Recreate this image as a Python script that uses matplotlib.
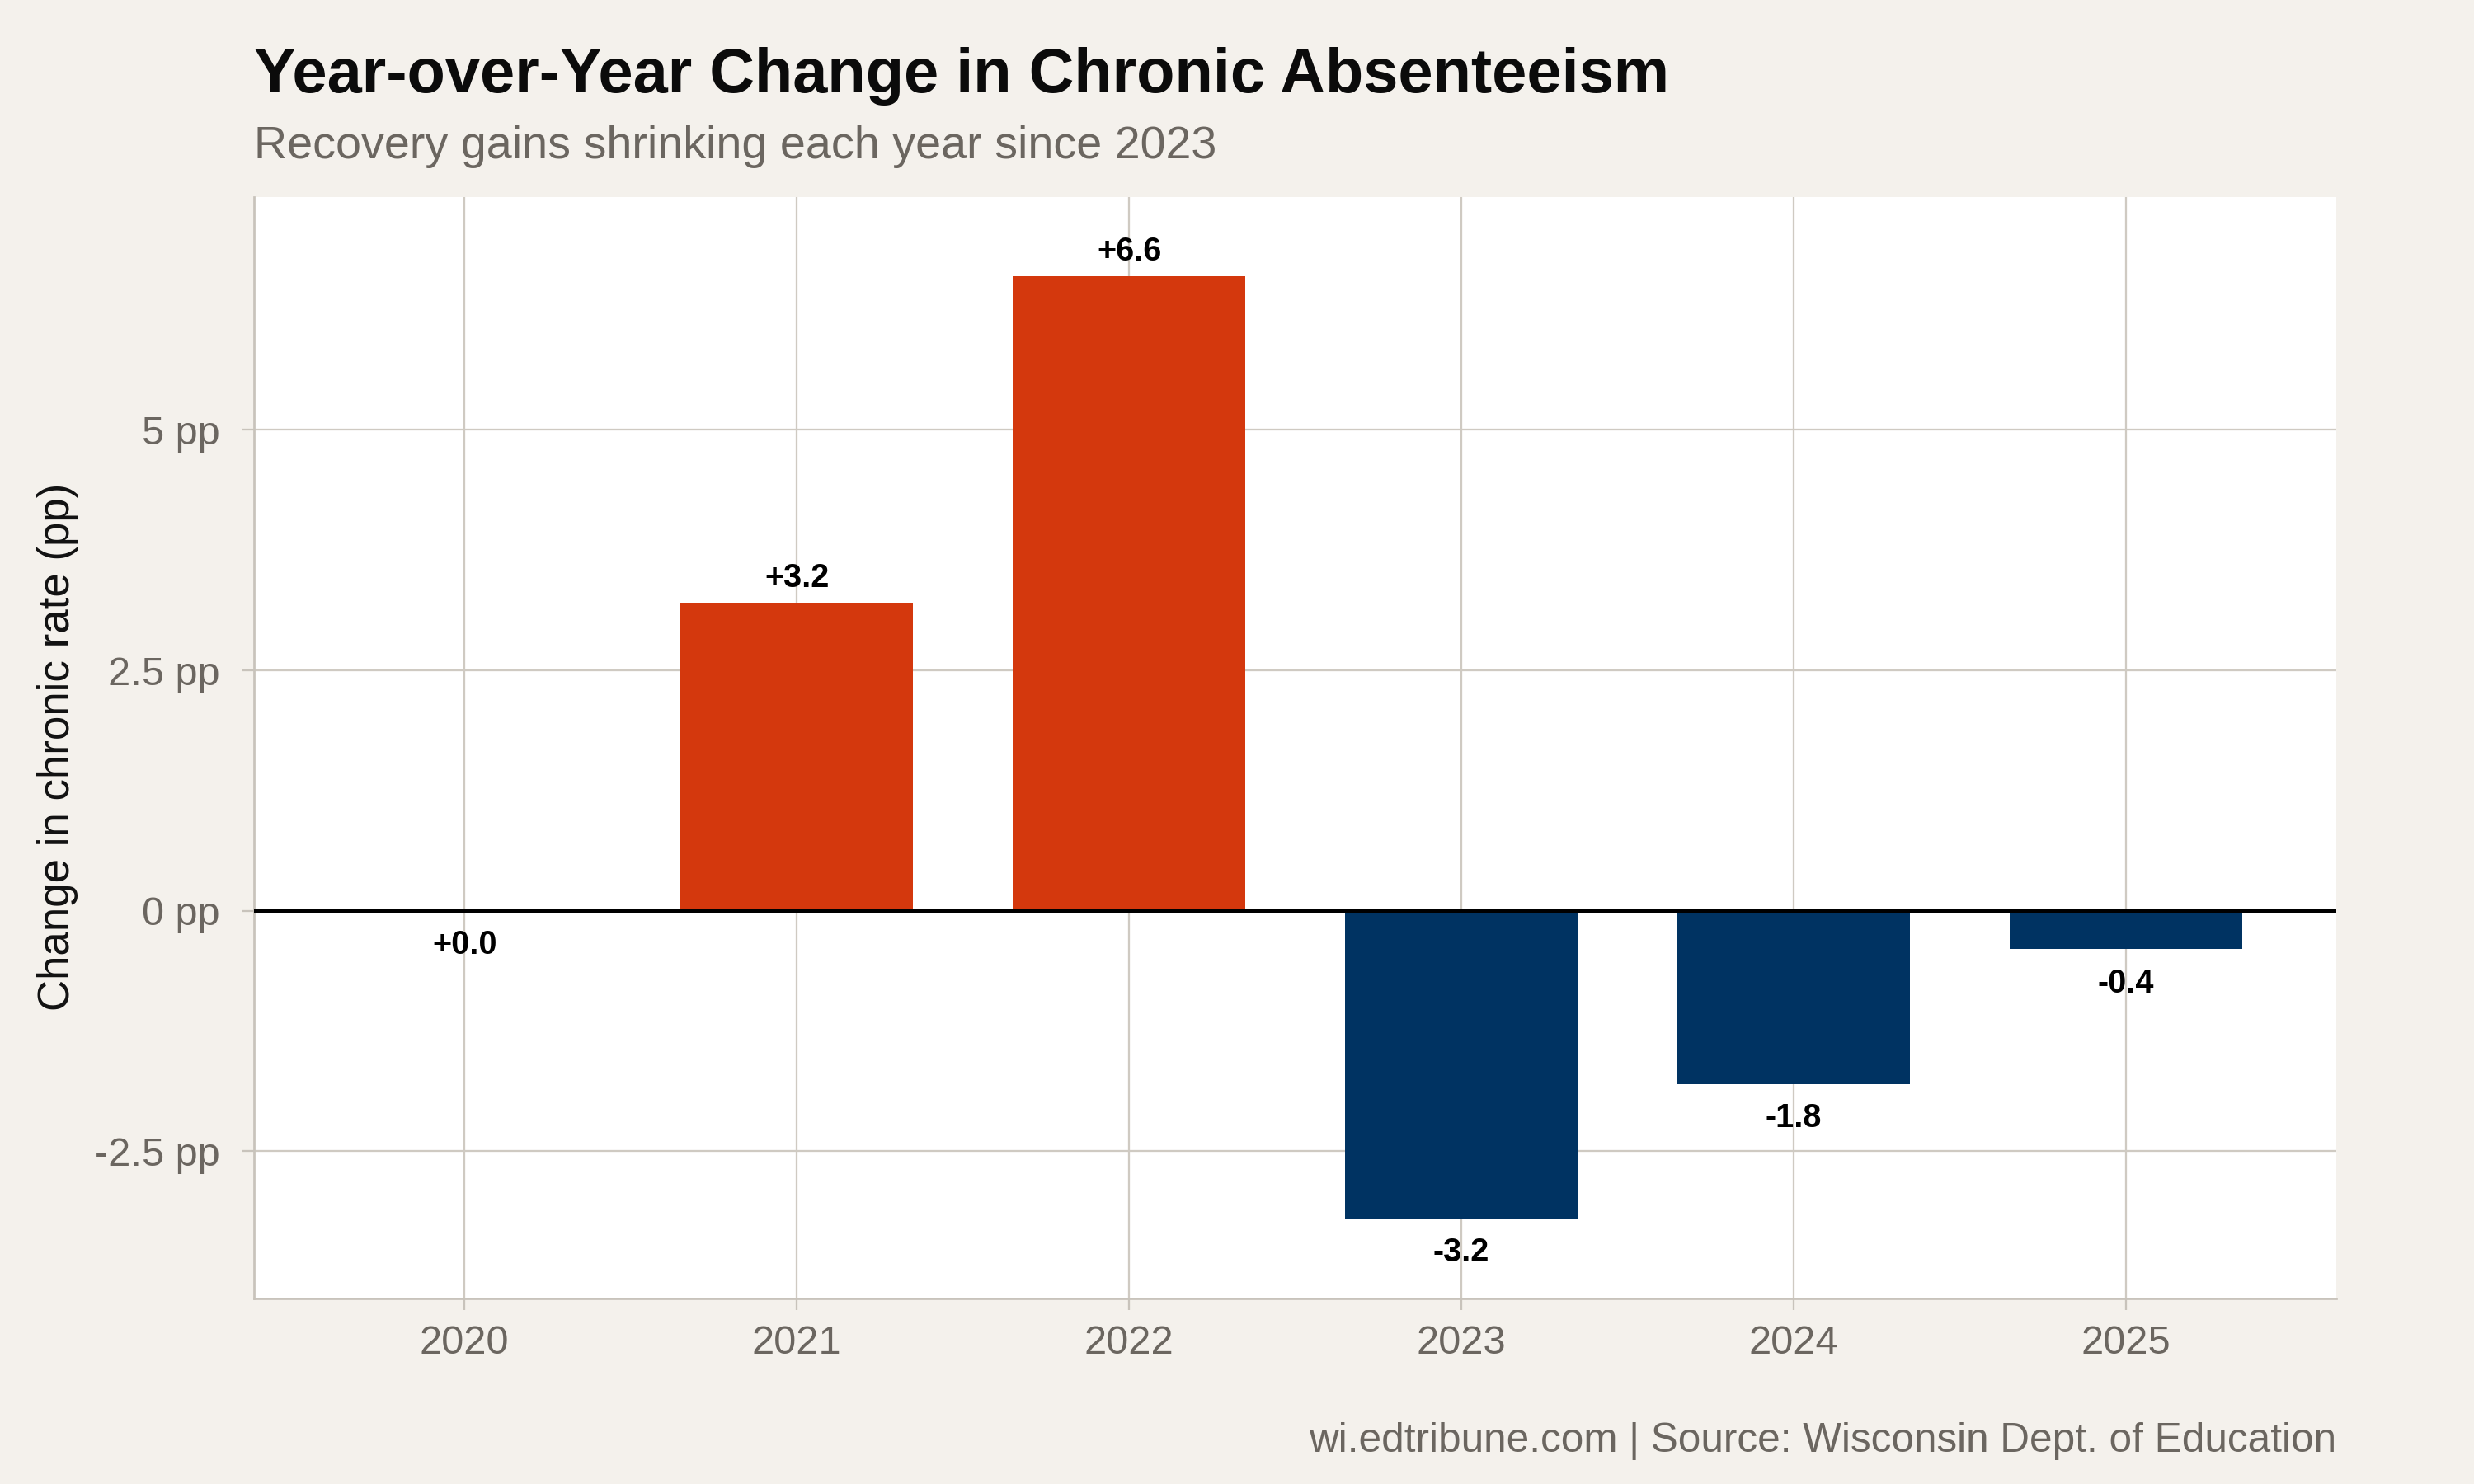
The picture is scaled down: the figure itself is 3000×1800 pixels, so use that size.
import matplotlib
matplotlib.use("Agg")
import matplotlib.pyplot as plt
from matplotlib.ticker import FixedLocator, FixedFormatter

# ---- data ----
years = ["2020", "2021", "2022", "2023", "2024", "2025"]
changes = [0.0, 3.2, 6.6, -3.2, -1.8, -0.4]
y_ticks = [-2.5, 0, 2.5, 5]
y_tick_labels = ["-2.5 pp", "0 pp", "2.5 pp", "5 pp"]

title = "Year-over-Year Change in Chronic Absenteeism"
subtitle = "Recovery gains shrinking each year since 2023"
caption = "wi.edtribune.com | Source: Wisconsin Dept. of Education"
ylabel = "Change in chronic rate (pp)"

# ---- style ----
BG = "#f4f1ec"
PANEL = "#ffffff"
GRID = "#cfcac2"
AXIS = "#c8c3bb"
TICKTXT = "#6b6660"
POS = "#d4380d"
NEG = "#003362"
FONT = ["Liberation Sans", "DejaVu Sans"]

plt.rcParams["font.family"] = FONT

fig = plt.figure(figsize=(10, 6), dpi=300, facecolor=BG)
ax = fig.add_axes([0.1027, 0.125, 0.9443 - 0.1027, 0.8672 - 0.125])
ax.set_facecolor(PANEL)

x = list(range(len(years)))
colors = [POS if v > 0 else NEG for v in changes]
ax.bar(x, changes, width=0.70, color=colors, zorder=2)
ax.axhline(0, color="#000000", linewidth=1.0, zorder=3)

for xi, v in zip(x, changes):
    lab = f"{v:+.1f}"
    if v > 0:
        ax.annotate(lab, (xi, v), xytext=(0, 4.6), textcoords="offset points",
                    ha="center", va="baseline", fontsize=9.5, fontweight="bold",
                    color="#000000", zorder=4)
    else:
        ax.annotate(lab, (xi, v), xytext=(0, -5.3), textcoords="offset points",
                    ha="center", va="top", fontsize=9.5, fontweight="bold",
                    color="#000000", zorder=4)

ax.set_xlim(-0.633, 5.633)
ax.set_ylim(-4.03, 7.42)
ax.set_xticks(x)
ax.set_xticklabels(years)
ax.yaxis.set_major_locator(FixedLocator(y_ticks))
ax.yaxis.set_major_formatter(FixedFormatter(y_tick_labels))

ax.set_axisbelow(True)
ax.grid(True, color=GRID, linewidth=0.55)

for s in ["top", "right"]:
    ax.spines[s].set_visible(False)
for s in ["left", "bottom"]:
    ax.spines[s].set_color(AXIS)
    ax.spines[s].set_linewidth(0.65)

ax.tick_params(axis="both", colors=AXIS, labelcolor=TICKTXT, labelsize=11.7,
               length=3.4, width=0.55)
ax.tick_params(axis="x", pad=4.2)
ax.tick_params(axis="y", pad=6.6)

fig.text(0.0235, 0.497, ylabel, rotation=90, ha="center", va="center",
         fontsize=12.7, color="#111111")

fig.text(0.1027, 1 - 111.7 / 1800, title, ha="left", va="baseline",
         fontsize=18.2, fontweight="bold", color="#0b0b0b")
fig.text(0.1027, 1 - 192.3 / 1800, subtitle, ha="left", va="baseline",
         fontsize=13.35, color=TICKTXT)
fig.text(0.9443, 1 - 1760.7 / 1800, caption, ha="right", va="baseline",
         fontsize=11.9, color=TICKTXT)

fig.savefig("out.png", dpi=300, facecolor=BG)
